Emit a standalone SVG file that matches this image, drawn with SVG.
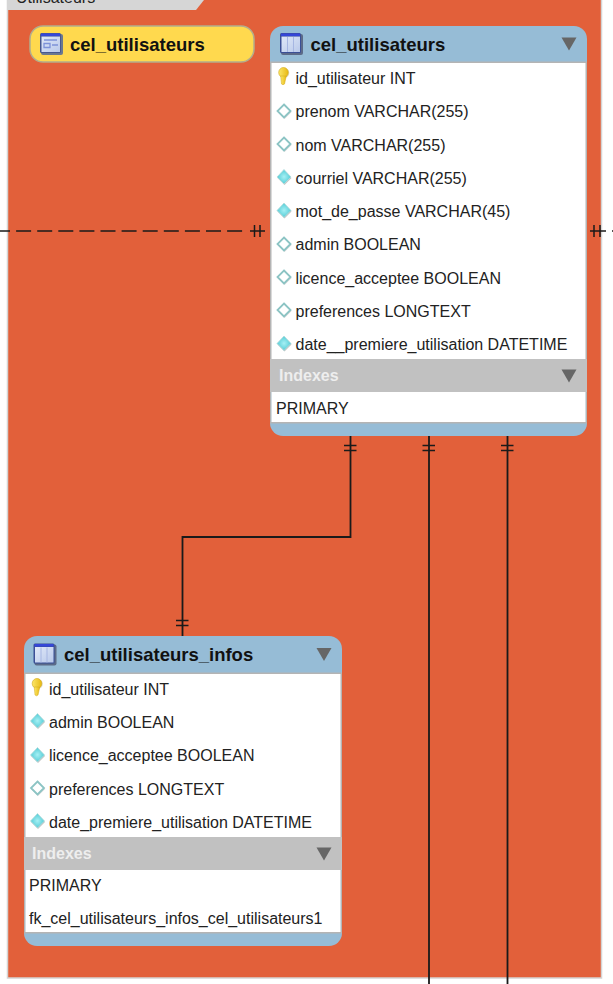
<svg xmlns="http://www.w3.org/2000/svg" width="613" height="984" viewBox="0 0 613 984">
<style>
text{font-family:"Liberation Sans",Arial,sans-serif;fill:#222}
.t{font-size:16px}
.h{font-size:18.5px;font-weight:bold;fill:#111}
.ix{font-size:16px;font-weight:bold;fill:#eee}
.b{fill:#96bcd6}
.g{fill:#c1c1c1}
.e{fill:#b4b4b4}
.c{fill:none;stroke:#1a1a1a;stroke-width:1.800}
.d{fill:none;stroke:#1a1a1a;stroke-width:1.500}
.tk{fill:none;stroke:#1a1a1a;stroke-width:1.500}
</style>
<defs>
<filter id="soft" x="-30%" y="-30%" width="160%" height="160%"><feGaussianBlur stdDeviation=".45"/></filter>
<radialGradient id="dia"><stop offset="0" stop-color="#a6f0f4"/><stop offset="1" stop-color="#55ccd6"/></radialGradient>
<linearGradient id="pane" x1="0" y1="0" x2="1" y2="1"><stop offset="0" stop-color="#e0e8f8"/><stop offset="1" stop-color="#b9c9ea"/></linearGradient>
<linearGradient id="gold" x1="0" y1="0" x2="1" y2="0"><stop offset="0" stop-color="#fbe667"/><stop offset="1" stop-color="#e8b914"/></linearGradient>
<g id="tbl" filter="url(#soft)"><rect x="1" y="1" width="22" height="21" rx="2" fill="#5b6a88"/><rect x="0" y="0" width="21" height="20" rx="1.500" fill="#3a4f96"/><rect x="1.500" y="3.500" width="18.500" height="15.500" fill="url(#pane)"/><path d="M1 1.800h19" stroke="#3546d8" stroke-width="2.600"/><path d="M7.500 4v15M13.500 4v15" stroke="#a6b6e2" stroke-width="1"/></g>
<g id="view" filter="url(#soft)"><rect x="1" y="1" width="22" height="21" rx="2" fill="#6a7890"/><rect x="0" y="0" width="21" height="20" rx="1.500" fill="#46598f"/><rect x="1.500" y="3.500" width="18.500" height="15.500" fill="url(#pane)"/><path d="M1 1.800h19" stroke="#3546d8" stroke-width="2.600"/><path d="M4 7h13M4 10.500h6v4H4zM12 12h6" stroke="#7d92d8" stroke-width="1.300" fill="none"/></g>
<g id="key" filter="url(#soft)"><ellipse cx="1" cy="-4" rx="4.800" ry="5" fill="#c8c0a0" opacity=".5"/><ellipse cx="0" cy="-4.500" rx="4.800" ry="5" fill="url(#gold)" stroke="#d2a81a" stroke-width=".6"/><path d="M-2.800-1L-2 7Q-.500 8.500 1 7L2.800-1Z" fill="url(#gold)" stroke="#d2a81a" stroke-width=".5"/></g>
<g id="df" filter="url(#soft)"><path d="M.500-6.500L7.500 1L.500 8L-6.500 1Z" fill="#9a9a9a" opacity=".6"/><path d="M0-7.500L7 0L0 7L-7 0Z" fill="url(#dia)" stroke="#b8dcdc" stroke-width=".8"/></g>
<g id="do" filter="url(#soft)"><path d="M.500-6.500L7.500 1L.500 8L-6.500 1Z" fill="#aaa" opacity=".5"/><path d="M0-6.500L6.500 0L0 6.500L-6.500 0Z" fill="#fff" stroke="#8cc4c4" stroke-width="1.800"/></g>
<path id="tri" d="M-7.500-6H7.500L0 7Z" fill="#666"/>
</defs>

<rect width="613" height="984" fill="#fff"/>
<rect id="layer" x="7.500" y="-1" width="594" height="979" fill="#e2603a" stroke="#d4d4d4" stroke-width="1.500"/>
<g id="tab"><path d="M7 0H204L196 10H7Z" fill="#d6d6d6"/><text x="16" y="3" style="font-size:16px">Utilisateurs</text></g>

<g id="connectors">
<path class="d" d="M-5 231H243" stroke-dasharray="15 6.100"/>
<path class="d" d="M250 231H265"/>
<path class="tk" d="M254.500 225V237M260 225V237"/>
<path class="d" d="M590 231H606"/>
<path class="d" d="M612 231H613"/>
<path class="tk" d="M594 225V237M600 225V237"/>
<path class="c" d="M350.500 436V537H182.500V636"/>
<path class="c" d="M429 436V984M507.500 436V984"/>
<path class="tk" d="M344 445.500H356.500M344 450.500H356.500M422.500 445.500H435M422.500 450.500H435M501 445.500H513.500M501 450.500H513.500M176 620.500H188.500M176 625.500H188.500"/>
</g>

<g id="view-cel_utilisateurs">
<rect x="30" y="26" width="224" height="36" rx="13" fill="#ffd94e" stroke="#b3ad8c" stroke-width="1.500"/>
<use href="#view" x="40" y="33"/>
<text class="h" x="70" y="51">cel_utilisateurs</text>
</g>

<g id="table-cel_utilisateurs">
<rect x="270" y="26" width="317" height="410" rx="13" class="b"/>
<rect x="271" y="62" width="315" height="298" fill="#fff"/>
<rect x="270" y="61.500" width="317" height="1.500" class="e"/>
<rect x="270" y="62" width="1.500" height="361" class="e"/>
<rect x="585.500" y="62" width="1.500" height="361" class="e"/>
<rect x="270" y="359" width="317" height="33" class="g"/>
<rect x="271.500" y="392" width="314" height="30" fill="#fff"/>
<rect x="270" y="422" width="317" height="1.500" class="e"/>
<use href="#tbl" x="280" y="33"/>
<text class="h" x="310.500" y="51">cel_utilisateurs</text>
<use href="#tri" x="569" y="43.500"/>
<use href="#key" x="283.500" y="77"/>
<text class="t" x="295.500" y="84">id_utilisateur INT</text>
<use href="#do" x="284" y="111"/>
<text class="t" x="295.500" y="117">prenom VARCHAR(255)</text>
<use href="#do" x="284" y="144"/>
<text class="t" x="295.500" y="151">nom VARCHAR(255)</text>
<use href="#df" x="284" y="177"/>
<text class="t" x="295.500" y="184">courriel VARCHAR(255)</text>
<use href="#df" x="284" y="210.500"/>
<text class="t" x="295.500" y="217">mot_de_passe VARCHAR(45)</text>
<use href="#do" x="284" y="244"/>
<text class="t" x="295.500" y="250">admin BOOLEAN</text>
<use href="#do" x="284" y="277"/>
<text class="t" x="295.500" y="284">licence_acceptee BOOLEAN</text>
<use href="#do" x="284" y="310"/>
<text class="t" x="295.500" y="317">preferences LONGTEXT</text>
<use href="#df" x="284" y="343.500"/>
<text class="t" x="295.500" y="350">date__premiere_utilisation DATETIME</text>
<text class="ix" x="279" y="381">Indexes</text>
<use href="#tri" x="569" y="375.500"/>
<text class="t" x="276" y="414">PRIMARY</text>
</g>

<g id="table-cel_utilisateurs_infos">
<rect x="24" y="636" width="318" height="310" rx="13" class="b"/>
<rect x="25" y="673" width="316" height="165" fill="#fff"/>
<rect x="24" y="672.500" width="318" height="1.500" class="e"/>
<rect x="24" y="673" width="1.500" height="260" class="e"/>
<rect x="340.500" y="673" width="1.500" height="260" class="e"/>
<rect x="24" y="837" width="318" height="33" class="g"/>
<rect x="25.500" y="870" width="315" height="62" fill="#fff"/>
<rect x="24" y="932" width="318" height="1.500" class="e"/>
<use href="#tbl" x="33.500" y="643.500"/>
<text class="h" x="64" y="661">cel_utilisateurs_infos</text>
<use href="#tri" x="324" y="654"/>
<use href="#key" x="37" y="688"/>
<text class="t" x="49" y="695">id_utilisateur INT</text>
<use href="#df" x="37.500" y="721"/>
<text class="t" x="49" y="728">admin BOOLEAN</text>
<use href="#df" x="37.500" y="755"/>
<text class="t" x="49" y="761">licence_acceptee BOOLEAN</text>
<use href="#do" x="37.500" y="788"/>
<text class="t" x="49" y="795">preferences LONGTEXT</text>
<use href="#df" x="37.500" y="821"/>
<text class="t" x="49" y="828">date_premiere_utilisation DATETIME</text>
<text class="ix" x="32" y="859">Indexes</text>
<use href="#tri" x="324" y="853.500"/>
<text class="t" x="29" y="891">PRIMARY</text>
<text class="t" x="29" y="924">fk_cel_utilisateurs_infos_cel_utilisateurs1</text>
</g>
</svg>
